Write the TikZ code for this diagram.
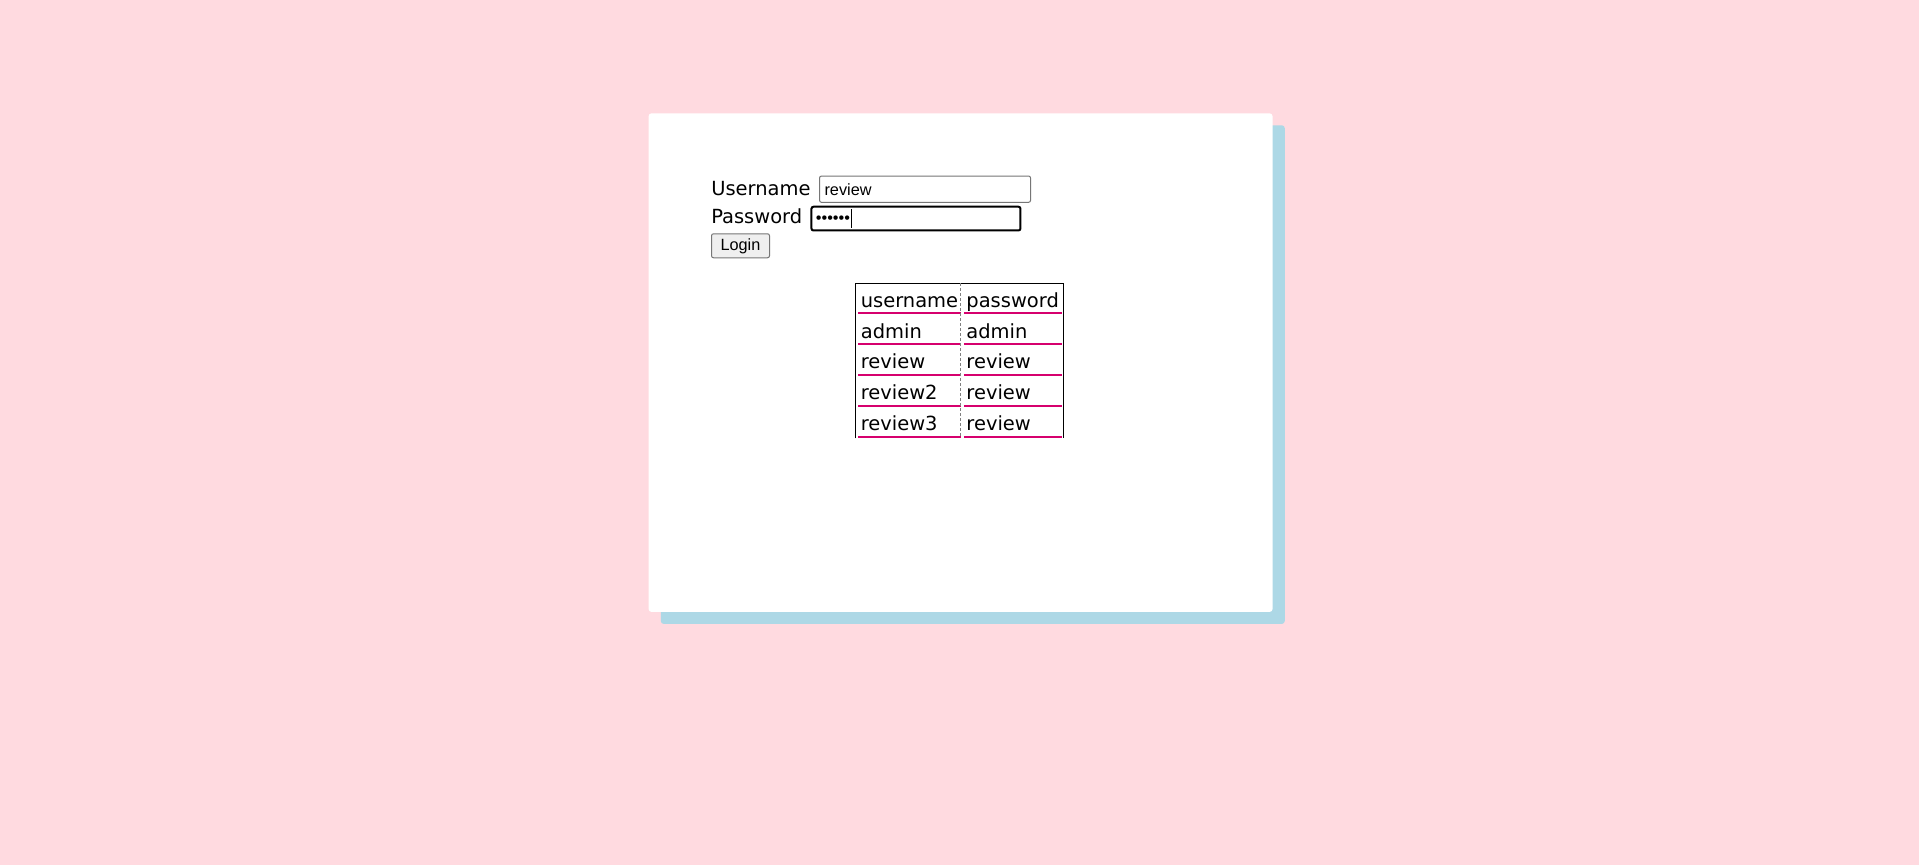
\documentclass[tikz,border=0pt]{standalone}
\usepackage{fontspec}
\setmainfont{DejaVu Sans}
\newfontfamily\fieldfont{Liberation Sans}
\usetikzlibrary{positioning}
\definecolor{bgpink}{RGB}{255,218,224}
\definecolor{shadowblue}{RGB}{173,216,230}
\definecolor{fieldgray}{RGB}{118,118,118}
\definecolor{btngray}{RGB}{239,239,239}
\definecolor{rowline}{RGB}{214,0,110}

\begin{document}
\begin{tikzpicture}[x=0.75pt, y=-0.75pt,
					cardbox/.style={rectangle,
					rounded corners=2.25pt,
					inner sep=0pt,
					minimum width=468pt,
					minimum height=374pt,
					anchor=north west},
					formlabel/.style={inner sep=0pt,
					anchor=base west,
					font=\fontsize{14.6}{17}\selectfont},
					fieldbox/.style={rectangle,
					rounded corners=1.5pt,
					fill=white,
					inner xsep=3.75pt,
					inner ysep=0pt,
					align=left,
					font=\fieldfont\fontsize{12.2}{14}\selectfont},
					loginbtn/.style={rectangle,
					rounded corners=1.5pt,
					draw=fieldgray,
					line width=0.75pt,
					fill=btngray,
					minimum width=43.5pt,
					inner ysep=0pt,
					text height=12.9pt,
					text depth=5.1pt,
					font=\fieldfont\fontsize{12.2}{14}\selectfont},
					tcell/.style={rectangle,
					inner xsep=1.7pt,
					inner ysep=0pt,
					text height=18.32pt,
					text depth=4.5pt,
					align=left,
					font=\fontsize{14.6}{17}\selectfont},
					namecell/.style={tcell, text width=72.9pt},
					passcell/.style={tcell, text width=69.65pt},
					underline/.style={draw=rowline, line width=1.5pt},
					tableframe/.style={draw=black, line width=0.75pt},
					celldash/.style={draw=gray, line width=0.75pt, dash pattern=on 2.25pt off 1.5pt}
					]

% page background, also fixes the size
\fill[bgpink] (0,0) rectangle (1919,865);

% card with its shadow
\node[cardbox, fill=shadowblue] (shadow) at (660.5,125) {};
\node[cardbox, fill=white] (card) at (648.3,113) {};

% login form
\node[formlabel] (userlabel) at (711,195) {Username};
\node[formlabel] (passlabel) at ([yshift=-21.2pt]userlabel.base west) {Password};

\node[fieldbox, draw=fieldgray, line width=0.75pt, text width=150.75pt, text height=14.25pt, text depth=5.5pt]
	(userbox) [right=6.2pt of userlabel.base east, anchor=base west] {review};
\node[fieldbox, draw=black, line width=1.5pt, inner xsep=3.3pt, text width=150.15pt, text height=12.4pt, text depth=5.4pt]
	(passbox) [right=6pt of passlabel.base east, anchor=base west] {••••••\hspace{0.6pt}\rule[-3.4pt]{0.75pt}{14.25pt}};

\node[loginbtn] (login) [anchor=north west] at ([yshift=-7.5pt]passlabel.base west) {Login};

% table cells
\node[namecell, anchor=south west] (name1) at (858.3,313.3) {username};
\node[passcell, right=2.5pt of name1] (pass1) {password};
\node[namecell, below=0pt of name1] (name2) {admin};
\node[passcell, right=2.5pt of name2] (pass2) {admin};
\node[namecell, below=0pt of name2] (name3) {review};
\node[passcell, right=2.5pt of name3] (pass3) {review};
\node[namecell, below=0pt of name3] (name4) {review2};
\node[passcell, right=2.5pt of name4] (pass4) {review};
\node[namecell, below=0pt of name4] (name5) {review3};
\node[passcell, right=2.5pt of name5] (pass5) {review};

% underlines under each cell
\path[underline] (name1.south west) edge (name1.south east);
\path[underline] (pass1.south west) edge (pass1.south east);
\path[underline] (name2.south west) edge (name2.south east);
\path[underline] (pass2.south west) edge (pass2.south east);
\path[underline] (name3.south west) edge (name3.south east);
\path[underline] (pass3.south west) edge (pass3.south east);
\path[underline] (name4.south west) edge (name4.south east);
\path[underline] (pass4.south west) edge (pass4.south east);
\path[underline] (name5.south west) edge (name5.south east);
\path[underline] (pass5.south west) edge (pass5.south east);

% table frame, open at the bottom
\coordinate (tbl-tl) at (855.7,283.3);
\coordinate (tbl-tr) at (1063.2,283.3);
\coordinate (tbl-bl) at (855.7,438.3);
\coordinate (tbl-br) at (1063.2,438.3);
\coordinate (sep-top) at (960.7,283.3);
\coordinate (sep-bottom) at (960.7,438.3);
\draw[tableframe] (tbl-bl) -- (tbl-tl) -- (tbl-tr) -- (tbl-br);
\draw[celldash] (sep-top) -- (sep-bottom);

\end{tikzpicture}
\end{document}
